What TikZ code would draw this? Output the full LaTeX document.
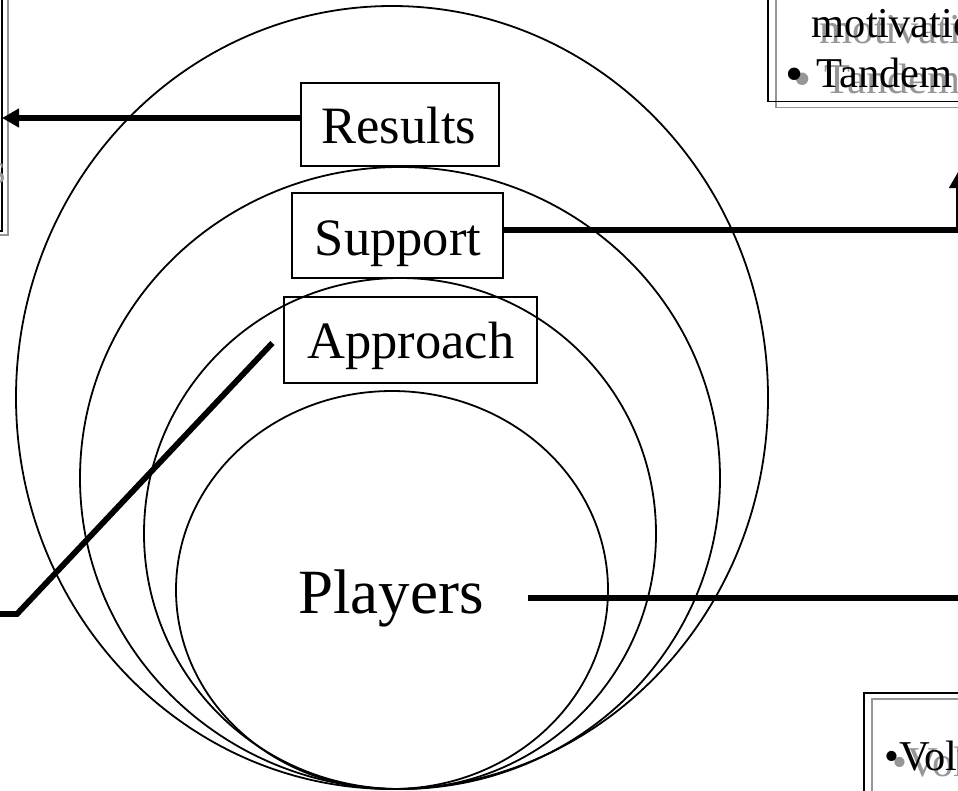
\documentclass[tikz,border=0pt]{standalone}
\usepackage{fontspec}
\setmainfont{Liberation Serif}
\usetikzlibrary{arrows.meta}
\definecolor{shadowgray}{RGB}{150,150,150}
\begin{document}
\begin{tikzpicture}[x=1pt,y=-1pt,
  ring/.style={draw=black, line width=1.8pt},
  labelbox/.style={draw=black, line width=1.8pt, inner sep=0pt},
  bigtext/.style={font=\fontsize{52.5}{60}\selectfont, inner sep=0pt, anchor=base},
  conn/.style={line width=5.8pt, line join=miter},
  tipped/.style={-{Triangle[length=17pt,width=18pt]}},
  panel/.style={draw=black, line width=1.6pt},
  panelshadow/.style={draw=shadowgray, line width=1.6pt},
  paneltext/.style={font=\fontsize{42.5}{50}\selectfont, inner sep=0pt, anchor=base west},
  shadowtext/.style={paneltext, text=shadowgray},
  bullettext/.style={font=\fontsize{52}{60}\selectfont, inner sep=0pt, anchor=base west},
  shadowbullet/.style={bullettext, text=shadowgray},
]
\useasboundingbox (0,0) rectangle (958,790);
\clip (0,0) rectangle (958,790);

% nested rings
\draw[ring] (392,397.5) ellipse [x radius=376, y radius=391.5];
\draw[ring] (400,478) ellipse [x radius=320, y radius=311];
\draw[ring] (400,533.5) ellipse [x radius=256, y radius=255.5];
\draw[ring] (392,590) ellipse [x radius=216, y radius=199];

% label boxes
\node[labelbox, minimum width=198pt, minimum height=83pt] (resbox) at (399.7,124.5) {};
\node[bigtext] (restext) at (398.8,143) {Results};
\node[labelbox, minimum width=210.4pt, minimum height=85.6pt] (supbox) at (397.5,235.5) {};
\node[bigtext] (suptext) at (398,255) {Support};
\node[labelbox, minimum width=252.4pt, minimum height=86.6pt] (appbox) at (410.5,340) {};
\node[bigtext] (apptext) at (411,358) {Approach};
\node[font=\fontsize{63}{70}\selectfont, inner sep=0pt, anchor=base] (players) at (391,613) {Players};

% side panels (cut off by the picture edge)
\draw[panelshadow] (-94,-6) rectangle (8,235);
\draw[panel] (-100,-10) rectangle (2,231);
\node[shadowtext, anchor=base east] (lefts) at (6.5,183) {s};

\draw[panelshadow] (776,-4) rectangle (1000,107.5);
\draw[panel] (768,-10) rectangle (1000,101.5);
\node[shadowtext] (motivs) at (819.5,43) {motivation};
\node[shadowbullet] (bulls) at (793,96) {•};
\node[shadowtext] (tandems) at (824,93) {Tandem};
\node[paneltext] (motiv) at (811.5,37) {motivation};
\node[bullettext] (bull) at (785,91) {•};
\node[paneltext] (tandem) at (816,87) {Tandem};

\draw[panelshadow] (872,699) rectangle (1000,820);
\draw[panel] (864,693) rectangle (1000,820);
\node[shadowtext] (vols) at (892,776) {•Volunteers};
\node[paneltext] (vol) at (884,770) {•Volunteers};

% connectors
\coordinate (restip) at (2,118);
\draw[conn, tipped] (resbox.west |- restip) -- (restip);

\coordinate (supturn) at (958.5,230);
\coordinate (suptip) at (958.5,171);
\draw[conn, tipped] (supbox.east |- supturn) -- (supturn) -- (suptip);

\coordinate (appbend) at (17,614);
\coordinate (appfree) at (-12,614);
\draw[conn] ([xshift=-11pt,yshift=-3pt]appbox.west) -- (appbend) -- (appfree);

\coordinate (plfree) at (975,598);
\draw[conn] ([xshift=44pt]players.east) -- (players.east -| plfree);
\end{tikzpicture}
\end{document}
